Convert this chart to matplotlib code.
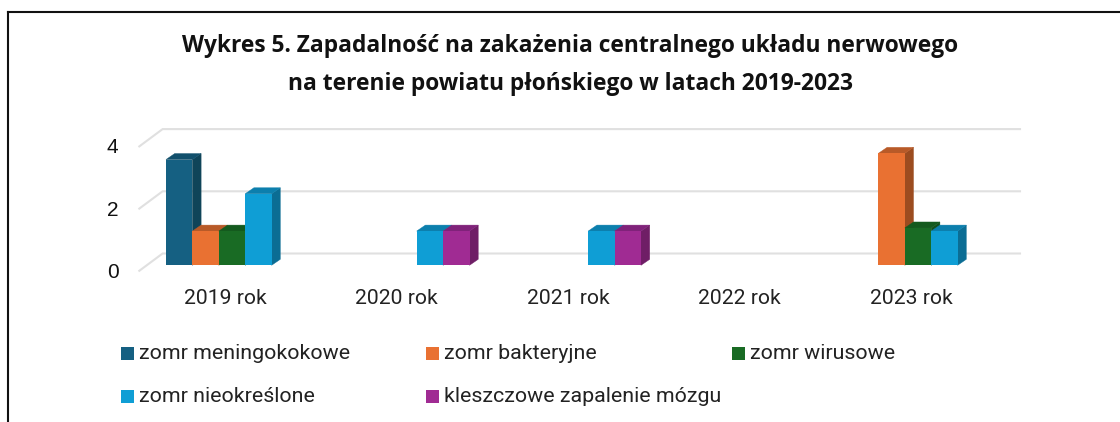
import matplotlib.pyplot as plt
import numpy as np
from matplotlib.patches import Polygon, Rectangle

years = ["2019 rok", "2020 rok", "2021 rok", "2022 rok", "2023 rok"]
series_names = ["zomr meningokokowe", "zomr bakteryjne", "zomr wirusowe",
                "zomr nieokreślone", "kleszczowe zapalenie mózgu"]
meningo = [3.4, 0, 0, 0, 0]
bakteryjne = [1.1, 0, 0, 0, 3.6]
wirusowe = [1.1, 0, 0, 0, 1.2]
nieokreslone = [2.3, 1.1, 1.1, 0, 1.1]
kleszczowe = [0, 1.1, 1.1, 0, 0]
yticks = [0, 2, 4]

# front, side, top
colors = [("#156082", "#0f4459", "#11506c"),
          ("#e97132", "#9c4c20", "#b85a28"),
          ("#196b24", "#12501b", "#145a1e"),
          ("#0f9ed5", "#0b6d94", "#0c7fad"),
          ("#a02b93", "#6f1e66", "#80227a")]

W, H = 1120, 422
PX_X = 171.5    # pixels per category
PX_Y = 31.1     # pixels per unit
ZERO_Y = 265.3  # pixel row of value 0 at the bar front
FIRST_X = 232   # pixel column of first group centre
AX_L, AX_R, AX_T, AX_B = 100, 1030, 120, 310

BAR_W = 26.4 / PX_X
DEPTH_X, DEPTH_Y = 8.7 / PX_X, 6.0 / PX_Y
WALL_X, WALL_Y = 23.3 / PX_X, 17.3 / PX_Y
FLOOR_X0, FLOOR_Y0 = (139.3 - FIRST_X) / PX_X, (ZERO_Y - 270.8) / PX_Y
GRID_END = (1020 - FIRST_X) / PX_X

plt.rcParams["font.family"] = ["Liberation Sans", "DejaVu Sans"]

fig = plt.figure(figsize=(W / 100, H / 100), dpi=100, facecolor="white")
ax = fig.add_axes([AX_L / W, 1 - AX_B / H, (AX_R - AX_L) / W, (AX_B - AX_T) / H])
ax.set_xlim((AX_L - FIRST_X) / PX_X, (AX_R - FIRST_X) / PX_X)
ax.set_ylim((ZERO_Y - AX_B) / PX_Y, (ZERO_Y - AX_T) / PX_Y)
ax.axis("off")

# walls: back gridlines and the slanted side lines
for t in yticks:
    y = FLOOR_Y0 + t
    ax.plot([FLOOR_X0, FLOOR_X0 + WALL_X, GRID_END], [y, y + WALL_Y, y + WALL_Y],
            color="#e0e0e0", lw=1.5, zorder=1, solid_joinstyle="miter")
    ax.text(FLOOR_X0 - 26.5 / PX_X, y - 1.5 / PX_Y, str(t), ha="center", va="center",
            fontsize=15, color="#111111", clip_on=False)

x = np.arange(len(years))
all_series = [meningo, bakteryjne, wirusowe, nieokreslone, kleszczowe]
z = 2
for k, (vals, col) in enumerate(zip(all_series, colors)):
    lefts = x + (k - 2.5) * BAR_W
    for left, v in zip(lefts, vals):
        if v == 0:
            continue
        r = left + BAR_W
        ax.add_patch(Polygon([(r, 0), (r + DEPTH_X, DEPTH_Y), (r + DEPTH_X, v + DEPTH_Y), (r, v)],
                             fc=col[1], ec=col[1], lw=0.3, zorder=z))
        ax.add_patch(Polygon([(left, v), (left + DEPTH_X, v + DEPTH_Y), (r + DEPTH_X, v + DEPTH_Y), (r, v)],
                             fc=col[2], ec=col[2], lw=0.3, zorder=z))
        ax.bar(left, v, BAR_W, align="edge", color=col[0], zorder=z + 0.5)
        z += 1

for i, year in enumerate(years):
    ax.text(i - 7 / PX_X, (ZERO_Y - 299) / PX_Y, year, ha="center", va="center",
            fontsize=15.2, color="#222222", family=["Roboto", "DejaVu Sans"])

fig.text(570 / W, 1 - 46 / H, "Wykres 5. Zapadalność na zakażenia centralnego układu nerwowego",
         ha="center", va="center", fontsize=16.35, fontweight="bold", color="#111111",
         family=["Open Sans", "DejaVu Sans"])
fig.text(570 / W, 1 - 83.5 / H, "na terenie powiatu płońskiego w latach 2019-2023",
         ha="center", va="center", fontsize=16.35, fontweight="bold", color="#111111",
         family=["Open Sans", "DejaVu Sans"])

# legend laid out by hand, equal column spacing
leg_x = [121, 426, 732, 121, 426]
leg_y = [353.3, 353.3, 353.3, 396.5, 396.5]
for name, col, lx, ly in zip(series_names, colors, leg_x, leg_y):
    fig.add_artist(Rectangle((lx / W, 1 - (ly + 6.5) / H), 13 / W, 13 / H,
                             transform=fig.transFigure, fc=col[0], ec="none"))
    fig.text((lx + 18) / W, 1 - (ly + 0.5) / H, name, ha="left", va="center", fontsize=15.4,
             color="#222222", family=["Roboto", "DejaVu Sans"])

# frame of the cropped page, open at the right and bottom
frame = [([7.5, 7.5], [H, 11.5]), ([7.5, W], [11.5, 11.5])]
for xs, ys in frame:
    fig.add_artist(plt.Line2D(np.array(xs) / W, 1 - np.array(ys) / H, color="#111111", lw=1.5))

fig.savefig("out.png", dpi=100)
